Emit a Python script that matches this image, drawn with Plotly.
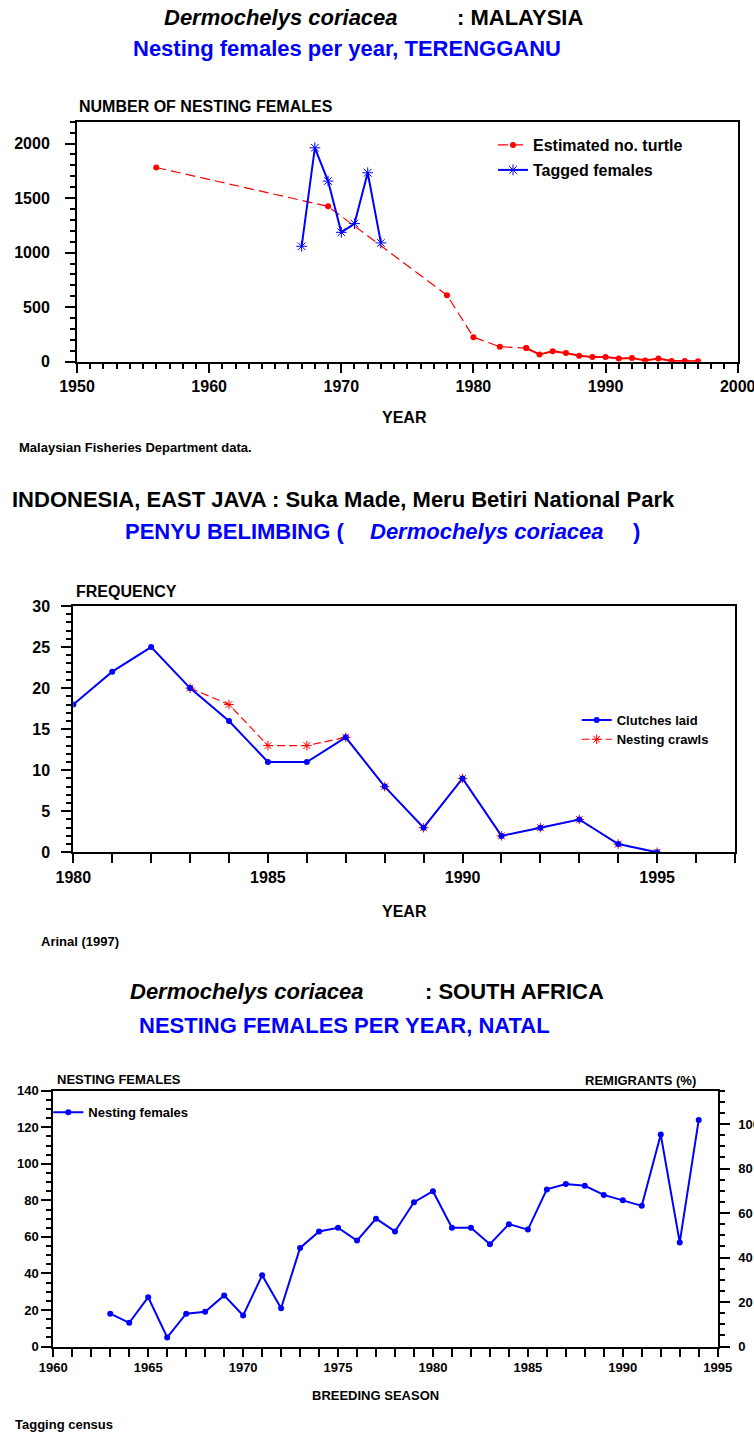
import plotly.graph_objects as go

W, H = 754, 1434
FONT = "Liberation Sans, Arial, sans-serif"
BLUE = "#0000FF"
RED = "#FF0000"

# ---------------- Chart 1: Malaysia, Terengganu ----------------
est_years = [1956, 1969, 1978, 1980, 1982, 1984, 1985, 1986, 1987, 1988,
             1989, 1990, 1991, 1992, 1993, 1994, 1995, 1996, 1997]
est_counts = [1780, 1424, 610, 225, 137, 125, 67, 95, 79, 55,
              43, 43, 30, 34, 12, 30, 6, 6, 3]
tag_years = [1967, 1968, 1969, 1970, 1971, 1972, 1973]
tag_counts = [1058, 1961, 1656, 1186, 1266, 1732, 1089]

# ---------------- Chart 2: Indonesia, East Java ----------------
clutch_years = [1980, 1981, 1982, 1983, 1984, 1985, 1986, 1987, 1988, 1989,
                1990, 1991, 1992, 1993, 1994, 1995]
clutches = [18, 22, 25, 20, 16, 11, 11, 14, 8, 3, 9, 2, 3, 4, 1, 0]
crawl_years = [1983, 1984, 1985, 1986, 1987, 1988, 1989, 1990, 1991, 1992,
               1993, 1994, 1995]
crawls = [20, 18, 13, 13, 14, 8, 3, 9, 2, 3, 4, 1, 0]

# ---------------- Chart 3: South Africa, Natal ----------------
season_years = list(range(1963, 1995))
nesting = [18, 13, 27, 5, 18, 19, 28, 17, 39, 21,
           54, 63, 65, 58, 70, 63, 79, 85, 65, 65,
           56, 67, 64, 86, 89, 88, 83, 80, 77, 116,
           57, 124]


def px_x(p):
    return p / W


def px_y(p):
    return 1 - p / H


fig = go.Figure()

# Chart 1 traces (estimate line dashed early, solid once annual counts begin)
split = est_years.index(1984)
fig.add_trace(go.Scatter(
    x=est_years[:split + 1], y=est_counts[:split + 1],
    name="Estimated no. turtle",
    mode="lines+markers", xaxis="x", yaxis="y", legend="legend",
    line=dict(color=RED, width=1.2, dash="10px,5px"),
    marker=dict(color=RED, size=6, symbol="circle")))
fig.add_trace(go.Scatter(
    x=est_years[split:], y=est_counts[split:], name="Estimated no. turtle",
    mode="lines+markers", xaxis="x", yaxis="y", showlegend=False,
    line=dict(color=RED, width=2),
    marker=dict(color=RED, size=6, symbol="circle")))
fig.add_trace(go.Scatter(
    x=tag_years, y=tag_counts, name="Tagged females",
    mode="lines+markers", xaxis="x", yaxis="y", legend="legend2",
    line=dict(color=BLUE, width=2),
    marker=dict(color=BLUE, size=9, symbol="asterisk-open",
                line=dict(color=BLUE, width=1))))

# Chart 2 traces (red drawn first so blue sits on top)
fig.add_trace(go.Scatter(
    x=crawl_years, y=crawls, name="Nesting crawls",
    mode="lines+markers", xaxis="x2", yaxis="y2", legend="legend4",
    line=dict(color=RED, width=1.2, dash="8px,4px"),
    marker=dict(color=RED, size=8, symbol="asterisk-open",
                line=dict(color=RED, width=1))))
fig.add_trace(go.Scatter(
    x=clutch_years, y=clutches, name="Clutches laid",
    mode="lines+markers", xaxis="x2", yaxis="y2", legend="legend3",
    line=dict(color=BLUE, width=2),
    marker=dict(color=BLUE, size=6, symbol="circle")))

# Chart 3 traces
fig.add_trace(go.Scatter(
    x=season_years, y=nesting, name="Nesting females",
    mode="lines+markers", xaxis="x3", yaxis="y3", legend="legend5",
    line=dict(color=BLUE, width=2),
    marker=dict(color=BLUE, size=6, symbol="circle")))
# empty trace so that the right-hand (remigrants) axis is drawn
fig.add_trace(go.Scatter(x=[], y=[], xaxis="x3", yaxis="y4",
                         showlegend=False, hoverinfo="skip"))


def tickfont(size):
    return dict(family=FONT, size=size, color="black", weight="bold")


def xax(domain, rng, dtick, tick0, mdtick, ticklen, mticklen, anchor, size):
    return dict(domain=domain, range=rng, anchor=anchor, showgrid=False,
                zeroline=False, showline=True, linecolor="black", linewidth=2,
                mirror=True, ticks="outside", ticklen=ticklen, tickwidth=1.5,
                tickcolor="black", dtick=dtick, tick0=tick0,
                tickfont=tickfont(size), automargin=False,
                ticklabeloverflow="allow",
                minor=dict(ticks="outside", dtick=mdtick, tick0=tick0,
                           ticklen=mticklen, tickwidth=1.5, tickcolor="black",
                           showgrid=False))


def yax(domain, rng, dtick, mdtick, anchor, size, mirror=True, side="left",
        overlaying=None, standoff=0):
    d = dict(domain=domain, range=rng, anchor=anchor, showgrid=False,
             zeroline=False, showline=True, linecolor="black", linewidth=2,
             mirror=mirror, ticks="outside", ticklen=10, tickwidth=1.5,
             tickcolor="black", dtick=dtick, tick0=0, side=side,
             tickfont=tickfont(size), automargin=False,
             ticklabeloverflow="allow", ticklabelstandoff=standoff,
             minor=dict(ticks="outside", dtick=mdtick, tick0=0, ticklen=5,
                        tickwidth=1.5, tickcolor="black", showgrid=False))
    if overlaying:
        d["overlaying"] = overlaying
        d.pop("domain")
    return d


layout = dict(
    width=W, height=H, template="none",
    paper_bgcolor="white", plot_bgcolor="white",
    margin=dict(l=0, r=0, t=0, b=0),
    xaxis=xax([px_x(77), px_x(737.7)], [1950, 2000], 10, 1950, 1, 9, 5, "y", 16),
    yaxis=yax([px_y(361.7), px_y(121.7)], [0, 2200], 500, 100, "x", 16,
              standoff=12),
    xaxis2=xax([px_x(73.3), px_x(735)], [1980, 1997], 5, 1980, 1, 9, 9, "y2", 16),
    yaxis2=yax([px_y(852.3), px_y(606)], [0, 30], 5, 1, "x2", 16, standoff=8),
    xaxis3=xax([px_x(53.3), px_x(717.7)], [1960, 1995], 5, 1960, 1, 8, 8, "y3", 13),
    yaxis3=yax([px_y(1346.6), px_y(1090.7)], [0, 140], 20, 5, "x3", 13,
               mirror=False),
    yaxis4=yax(None, [0, 115], 20, 5, "x3", 13, mirror=False, side="right",
               overlaying="y3", standoff=6),
    showlegend=True,
)


def leg(text_x, center_y, size):
    return dict(x=px_x(text_x - 40), y=px_y(center_y), xanchor="left",
                yanchor="middle", bgcolor="rgba(0,0,0,0)", borderwidth=0,
                itemwidth=30, tracegroupgap=0,
                font=dict(family=FONT, size=size, color="black", weight="bold"))


layout["legend"] = leg(533, 145, 16)
layout["legend2"] = leg(533, 170, 16)
layout["legend3"] = leg(616.7, 720, 13)
layout["legend4"] = leg(616.7, 739.3, 13)
layout["legend5"] = leg(88.3, 1112.3, 13)

fig.update_layout(**layout)


def ann(text, x, y, size, color="black", xanchor="left", italic=False):
    fig.add_annotation(
        text=text, x=px_x(x), y=px_y(y), xref="paper", yref="paper",
        xanchor=xanchor, yanchor="middle", showarrow=False,
        font=dict(family=FONT, size=size, color=color, weight="bold",
                  style="italic" if italic else "normal"))


# Chart 1 texts
ann("Dermochelys coriacea", 161.7, 17.5, 22, italic=True)
ann(": MALAYSIA", 455, 17.5, 22)
ann("Nesting females per year, TERENGGANU", 130.7, 48.3, 22, color=BLUE)
ann("NUMBER OF NESTING FEMALES", 76.7, 106.2, 16)
ann("YEAR", 380, 417.5, 16)
ann("Malaysian Fisheries Department data.", 16.7, 448, 13)

# Chart 2 texts
ann("INDONESIA, EAST JAVA : Suka Made, Meru Betiri National Park", 10, 499, 22)
ann("PENYU BELIMBING (", 123.3, 531.7, 22, color=BLUE)
ann("Dermochelys coriacea", 368.3, 531.7, 22, color=BLUE, italic=True)
ann(")", 631, 531.7, 22, color=BLUE)
ann("FREQUENCY", 74, 591, 16)
ann("YEAR", 380, 911, 16)
ann("Arinal (1997)", 39, 941.7, 13)

# Chart 3 texts
ann("Dermochelys coriacea", 128.3, 991.7, 22, italic=True)
ann(": SOUTH AFRICA", 423, 991.7, 22)
ann("NESTING FEMALES PER YEAR, NATAL", 136.7, 1025, 22, color=BLUE)
ann("NESTING FEMALES", 55, 1079.5, 13)
ann("REMIGRANTS (%)", 697.7, 1080, 13, xanchor="right")
ann("BREEDING SEASON", 375, 1395, 13, xanchor="center")
ann("Tagging census", 13, 1424, 13)

fig.write_html(
    "out.html",
    config={"displayModeBar": False},
    post_script="document.body.style.margin='0';"
                "document.body.style.overflow='hidden';")
